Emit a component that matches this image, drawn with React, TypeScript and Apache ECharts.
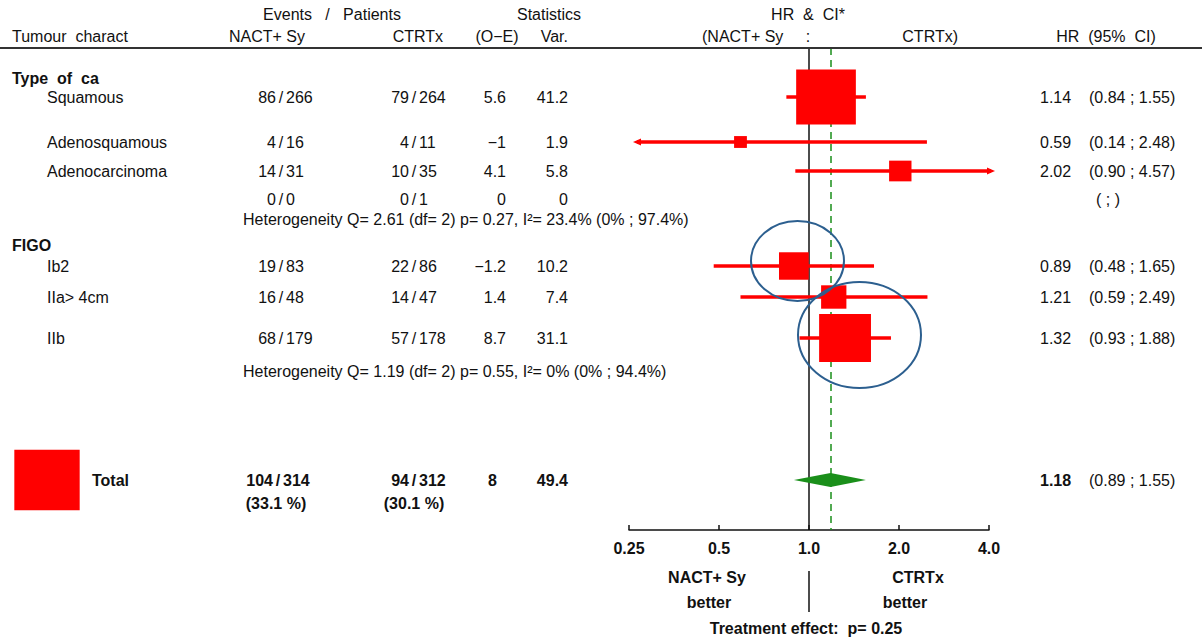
import React, { useEffect, useRef } from "react";
import * as echarts from "echarts";

// ---------- DATA ----------
const groupLabels = ["Type  of  ca", "FIGO"];
const rowLabels = ["Squamous", "Adenosquamous", "Adenocarcinoma", "", "Ib2", "IIa> 4cm", "IIb"];
const nactEvents = ["86", "4", "14", "0", "19", "16", "68"];
const nactPatients = ["266", "16", "31", "0", "83", "48", "179"];
const ctrtEvents = ["79", "4", "10", "0", "22", "14", "57"];
const ctrtPatients = ["264", "11", "35", "1", "86", "47", "178"];
const oMinusE = ["5.6", "\u22121", "4.1", "0", "\u22121.2", "1.4", "8.7"];
const variance = [41.2, 1.9, 5.8, 0, 10.2, 7.4, 31.1];
const hr: (number | null)[] = [1.14, 0.59, 2.02, null, 0.89, 1.21, 1.32];
const ciLow: (number | null)[] = [0.84, 0.14, 0.9, null, 0.48, 0.59, 0.93];
const ciHigh: (number | null)[] = [1.55, 2.48, 4.57, null, 1.65, 2.49, 1.88];
const hrText = ["1.14", "0.59", "2.02", "", "0.89", "1.21", "1.32"];
const ciText = ["(0.84 ; 1.55)", "(0.14 ; 2.48)", "(0.90 ; 4.57)", "( ; )", "(0.48 ; 1.65)", "(0.59 ; 2.49)", "(0.93 ; 1.88)"];
const heterogeneityText = [
  "Heterogeneity Q= 2.61 (df= 2) p= 0.27, I\u00b2= 23.4% (0% ; 97.4%)",
  "Heterogeneity Q= 1.19 (df= 2) p= 0.55, I\u00b2= 0% (0% ; 94.4%)",
];
const totalNact = ["104", "314"];
const totalCtrt = ["94", "312"];
const totalPct = ["(33.1 %)", "(30.1 %)"];
const totalOE = "8";
const totalVar = 49.4;
const totalHR = 1.18;
const totalLow = 0.89;
const totalHigh = 1.55;
const totalHRText = "1.18";
const totalCIText = "(0.89 ; 1.55)";
const axisTicks = [0.25, 0.5, 1, 2, 4];
const axisTickLabels = ["0.25", "0.5", "1.0", "2.0", "4.0"];
const treatmentP = "Treatment effect:  p= 0.25";

// ---------- LAYOUT ----------
const W = 1202;
const H = 638;
const HEADER_LINE_Y = 48;
const AXIS_Y = 530;
const AXIS_LEFT = 629;
const AXIS_RIGHT = 989;
const rowY = [97, 142, 171, 199, 266, 297, 338];
const groupY = [78, 245];
const hetY = [219, 371];
const TOTAL_Y = 480;
const PCT_Y = 503;
const NACT_SLASH = 281;
const CTRT_SLASH = 414;
const OE_RIGHT = 506;
const VAR_RIGHT = 568;
const HR_LEFT = 1040;
const CI_LEFT = 1089;
const BOX_KW = 9.3;
const BOX_KH = 8.6;
const RED = "#ff0000";
const GREEN = "#1a8f1a";
const FONT = "'Liberation Sans', Arial, Helvetica, sans-serif";
const FS = 16;

function txt(x: number, y: number, text: string, align = "left", bold = false, size = FS) {
  return {
    type: "text",
    x,
    y,
    z: 50,
    silent: true,
    style: {
      text,
      fill: "#111",
      fontFamily: FONT,
      fontSize: size,
      fontWeight: bold ? "bold" : "normal",
      align,
      verticalAlign: "middle",
    },
  };
}

function fraction(slash: number, y: number, a: string, b: string, bold = false) {
  return [
    txt(slash - 5, y, a, "right", bold),
    txt(slash, y, "/", "center", bold),
    txt(slash + 5, y, b, "left", bold),
  ];
}

function buildGraphic() {
  const g: any[] = [];
  // headers
  g.push(txt(332, 14, "Events   /   Patients", "center"));
  g.push(txt(549, 14, "Statistics", "center"));
  g.push(txt(808, 14, "HR  &  CI*", "center"));
  g.push(txt(12, 36, "Tumour  charact", "left"));
  g.push(txt(267, 36, "NACT+ Sy", "center"));
  g.push(txt(443, 36, "CTRTx", "right"));
  g.push(txt(497, 36, "(O\u2212E)", "center"));
  g.push(txt(568, 36, "Var.", "right"));
  g.push(txt(702, 36, "(NACT+ Sy", "left"));
  g.push(txt(808, 36, ":", "center"));
  g.push(txt(958, 36, "CTRTx)", "right"));
  g.push(txt(1106, 36, "HR  (95%  CI)", "center"));
  g.push({
    type: "line",
    z: 40,
    shape: { x1: 0, y1: HEADER_LINE_Y, x2: W, y2: HEADER_LINE_Y },
    style: { stroke: "#333", lineWidth: 2 },
  });
  // groups
  groupLabels.forEach((l, i) => g.push(txt(12, groupY[i], l, "left", true)));
  // rows
  rowLabels.forEach((l, i) => {
    const y = rowY[i];
    if (l) g.push(txt(47, y, l, "left"));
    g.push(...fraction(NACT_SLASH, y, nactEvents[i], nactPatients[i]));
    g.push(...fraction(CTRT_SLASH, y, ctrtEvents[i], ctrtPatients[i]));
    g.push(txt(OE_RIGHT, y, oMinusE[i], "right"));
    g.push(txt(VAR_RIGHT, y, String(variance[i]), "right"));
    if (hrText[i]) g.push(txt(HR_LEFT, y, hrText[i], "left"));
    if (hrText[i]) g.push(txt(CI_LEFT, y, ciText[i], "left"));
    else g.push(txt(1108, y, ciText[i], "center"));
  });
  heterogeneityText.forEach((t, i) => g.push(txt(243, hetY[i], t, "left")));
  // total
  const tw = BOX_KW * Math.sqrt(totalVar);
  const th = BOX_KH * Math.sqrt(totalVar);
  g.push({
    type: "rect",
    z: 30,
    shape: { x: 47 - tw / 2, y: TOTAL_Y - th / 2, width: tw, height: th },
    style: { fill: RED },
  });
  g.push(txt(92, TOTAL_Y, "Total", "left", true));
  g.push(...fraction(NACT_SLASH - 3, TOTAL_Y, totalNact[0], totalNact[1], true));
  g.push(...fraction(CTRT_SLASH, TOTAL_Y, totalCtrt[0], totalCtrt[1], true));
  g.push(txt(276, PCT_Y, totalPct[0], "center", true));
  g.push(txt(414, PCT_Y, totalPct[1], "center", true));
  g.push(txt(497, TOTAL_Y, totalOE, "right", true));
  g.push(txt(VAR_RIGHT, TOTAL_Y, String(totalVar), "right", true));
  g.push(txt(HR_LEFT, TOTAL_Y, totalHRText, "left", true));
  g.push(txt(CI_LEFT, TOTAL_Y, totalCIText, "left"));
  // annotation ellipses
  g.push({
    type: "ellipse",
    z: 60,
    shape: { cx: 797.5, cy: 261, rx: 46.5, ry: 40 },
    style: { fill: "none", stroke: "#2c5f8f", lineWidth: 2 },
  });
  g.push({
    type: "ellipse",
    z: 60,
    shape: { cx: 859.5, cy: 335, rx: 61.5, ry: 53 },
    style: { fill: "none", stroke: "#2c5f8f", lineWidth: 2 },
  });
  // bottom labels
  g.push(txt(707, 577, "NACT+ Sy", "center", true));
  g.push(txt(709, 602, "better", "center", true));
  g.push(txt(918, 577, "CTRTx", "center", true));
  g.push(txt(905, 602, "better", "center", true));
  g.push(txt(806, 628, treatmentP, "center", true));
  g.push({
    type: "line",
    z: 40,
    shape: { x1: 809, y1: 571, x2: 809, y2: 612 },
    style: { stroke: "#111", lineWidth: 1.5 },
  });
  return g;
}

const forestData = hr
  .map((h, i) => (h == null ? null : [h, ciLow[i], ciHigh[i], variance[i], rowY[i]]))
  .filter((d) => d != null);

const AXIS_MIN = axisTicks[0];
const AXIS_MAX = axisTicks[axisTicks.length - 1];

function renderForest(_params: any, api: any) {
  const h = api.value(0);
  const lo = api.value(1);
  const hi = api.value(2);
  const v = api.value(3);
  const yv = api.value(4);
  const [cx, cy] = api.coord([h, yv]);
  const minX = api.coord([AXIS_MIN, yv])[0];
  const maxX = api.coord([AXIS_MAX, yv])[0];
  const loClip = lo < AXIS_MIN;
  const hiClip = hi > AXIS_MAX;
  const x1 = loClip ? minX + 4 : api.coord([lo, yv])[0];
  const x2 = hiClip ? maxX + 6 : api.coord([hi, yv])[0];
  const children: any[] = [
    {
      type: "line",
      shape: { x1: loClip ? x1 + 4 : x1, y1: cy, x2: hiClip ? x2 - 4 : x2, y2: cy },
      style: { stroke: RED, lineWidth: 3.5 },
    },
  ];
  if (loClip)
    children.push({
      type: "polygon",
      shape: { points: [[x1, cy], [x1 + 8, cy - 3.5], [x1 + 8, cy + 3.5]] },
      style: { fill: RED },
    });
  if (hiClip)
    children.push({
      type: "polygon",
      shape: { points: [[x2, cy], [x2 - 8, cy - 3.5], [x2 - 8, cy + 3.5]] },
      style: { fill: RED },
    });
  const w = BOX_KW * Math.sqrt(v);
  const hh = BOX_KH * Math.sqrt(v);
  children.push({
    type: "rect",
    shape: { x: cx - w / 2, y: cy - hh / 2, width: w, height: hh },
    style: { fill: RED },
  });
  return { type: "group", children };
}

function renderDiamond(_params: any, api: any) {
  const yv = api.value(3);
  const [xc, y] = api.coord([api.value(0), yv]);
  const xl = api.coord([api.value(1), yv])[0];
  const xr = api.coord([api.value(2), yv])[0];
  return {
    type: "polygon",
    shape: { points: [[xl, y], [xc, y - 7], [xr, y], [xc, y + 7]] },
    style: { fill: GREEN },
  };
}

export default function App() {
  const ref = useRef<HTMLDivElement>(null);
  useEffect(() => {
    const chart = echarts.init(ref.current!, null, { renderer: "svg" });
    chart.setOption({
      animation: false,
      backgroundColor: "#fff",
      grid: {
        left: AXIS_LEFT,
        right: W - AXIS_RIGHT,
        top: HEADER_LINE_Y,
        bottom: H - AXIS_Y,
        containLabel: false,
      },
      xAxis: {
        type: "log",
        logBase: 2,
        min: AXIS_MIN,
        max: AXIS_MAX,
        splitNumber: 4,
        axisLine: { show: true, lineStyle: { color: "#111", width: 1.5 } },
        axisTick: { show: true, inside: true, length: 5, lineStyle: { color: "#111", width: 1.5 } },
        splitLine: { show: false },
        axisLabel: {
          color: "#111",
          fontFamily: FONT,
          fontSize: FS,
          fontWeight: "bold",
          margin: 10,
          formatter: (val: number) => {
            const idx = axisTicks.findIndex((t) => Math.abs(t - val) < 1e-6);
            return idx >= 0 ? axisTickLabels[idx] : "";
          },
        },
      },
      yAxis: {
        type: "value",
        inverse: true,
        min: HEADER_LINE_Y,
        max: AXIS_Y,
        show: false,
      },
      series: [
        {
          type: "custom",
          name: "forest",
          renderItem: renderForest,
          data: forestData,
          z: 10,
          markLine: {
            silent: true,
            symbol: ["none", "none"],
            label: { show: false },
            data: [
              { xAxis: 1, lineStyle: { color: "#111", type: "solid", width: 1.5 } },
              { xAxis: totalHR, lineStyle: { color: GREEN, type: [7, 5], width: 1.5 } },
            ],
          },
        },
        {
          type: "custom",
          name: "total",
          renderItem: renderDiamond,
          data: [[totalHR, totalLow, totalHigh, TOTAL_Y]],
          z: 11,
        },
      ],
      graphic: buildGraphic(),
    });
    return () => chart.dispose();
  }, []);
  return (
    <div
      ref={ref}
      style={{ position: "fixed", left: 0, top: 0, width: W, height: H, background: "#fff" }}
    />
  );
}
